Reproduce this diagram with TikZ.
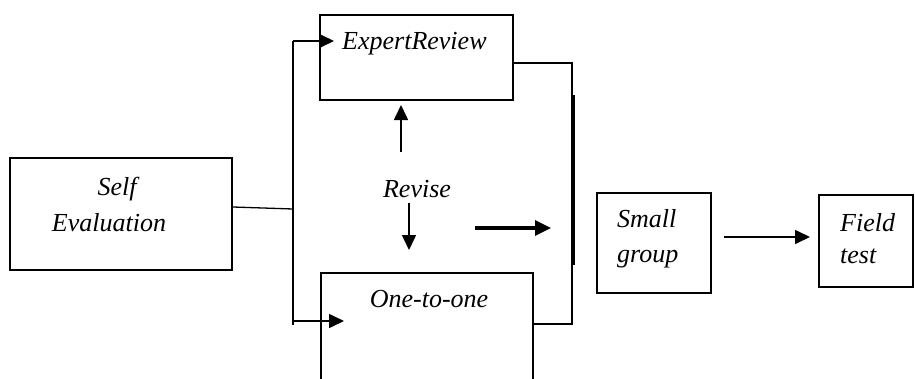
\documentclass[tikz,border=0pt]{standalone}
\usepackage{fontspec}
\setmainfont{Liberation Serif}
\usetikzlibrary{arrows.meta,calc}
\tikzset{
  box/.style={draw, line width=1.9pt, inner sep=0pt},
  lbl/.style={font=\fontsize{26}{28}\selectfont\itshape, inner sep=0pt},
  conn/.style={line width=1.3pt},
  arr/.style={line width=1.6pt, -{Triangle[length=15pt,width=14pt]}},
  bigarr/.style={line width=3.2pt, -{Triangle[length=16pt,width=15pt]}}
}
\begin{document}
\begin{tikzpicture}[x=1pt,y=-1pt]
\useasboundingbox (0,0) rectangle (915,378);
\clip (0,0) rectangle (915,378);
% boxes
\node[box, minimum width=222pt, minimum height=112pt] (se) at (121,214) {};
\node[box, minimum width=193pt, minimum height=85pt] (er) at (416.5,57.5) {};
\node[box, minimum width=212pt, minimum height=140pt] (oo) at (427,343) {};
\node[box, minimum width=114pt, minimum height=100pt] (sg) at (654,243) {};
\node[box, minimum width=94pt, minimum height=92pt] (ft) at (866,241) {};
% texts
\node[lbl, anchor=base] (t1) at (117,195) {Self};
\node[lbl, anchor=base] (t2) at (109,231) {Evaluation};
\node[lbl, anchor=base west] (t3) at (342,49) {ExpertReview};
\node[lbl, anchor=base] (t4) at (429,307) {One-to-one};
\node[lbl, anchor=base] (rv) at (417,197) {Revise};
\node[lbl, anchor=base west] (t5) at (617,227) {Small};
\node[lbl, anchor=base west] (t6) at (617,262) {group};
\node[lbl, anchor=base west] (t7) at (840,231) {Field};
\node[lbl, anchor=base west] (t8) at (840,263) {test};
% coordinates
\coordinate (j1) at (293,209);
\coordinate (jt) at (293,41);
\coordinate (jb) at (293,325);
\coordinate (r1) at (572,63);
\coordinate (r2) at (572,324);
\coordinate (tipER) at (334,41);
\coordinate (tipOO) at (344,321);
\coordinate (upS) at (401,152);
\coordinate (upE) at (401,105);
\coordinate (dnS) at (409,203);
\coordinate (dnE) at (409,250);
\coordinate (bS) at (475,228);
\coordinate (bE) at (551,228);
\coordinate (tS) at (573.5,95);
\coordinate (tE) at (573.5,265);
% connectors
\draw[conn] ($(se.east)+(0,-7)$) -- (j1);
\draw[conn] (jt) -- (jb);
\draw[arr] (jt) -- (tipER);
\draw[arr] (293,321) -- (tipOO);
\draw[conn] (er.east |- r1) -- (r1) -- (r2) -- (oo.east |- r2);
\draw[line width=2.6pt] (tS) -- (tE);
\draw[arr] (upS) -- (upE);
\draw[arr] (dnS) -- (dnE);
\draw[bigarr] (bS) -- (bE);
\draw[arr] (sg.east |- 0,237) ++(12,0) -- (810,237);
\end{tikzpicture}
\end{document}
